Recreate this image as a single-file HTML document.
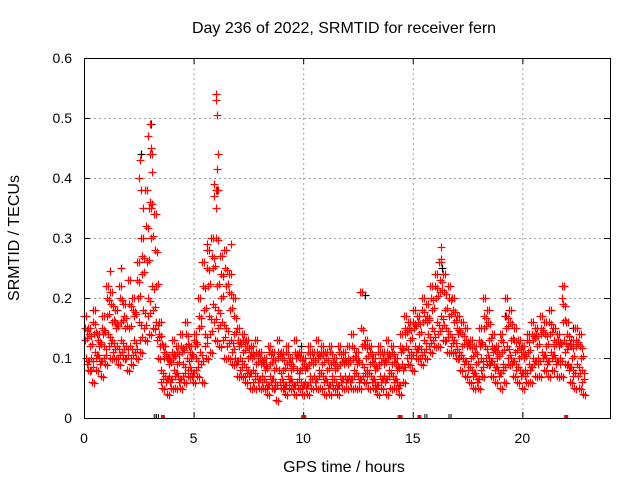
<!DOCTYPE html>
<html><head><meta charset="utf-8"><style>
body{margin:0;background:#fff}
svg{display:block;font-family:"Liberation Sans",sans-serif}
</style></head><body>
<svg id="c" width="640" height="480" xmlns="http://www.w3.org/2000/svg"></svg>
<script>
const xTicks=[0,5,10,15,20];
const yTicks=[0,0.1,0.2,0.3,0.4,0.5,0.6];
const yTickLabels=["0","0.1","0.2","0.3","0.4","0.5","0.6"];
const step=0.2;
const hiVals=[.17,.15,.18,.14,.17,.22,.21,.18,.22,.19,.23,.2,.26,.3,.38,.44,.34,.16,.12,.1,.13,.12,.14,.16,.12,.14,.2,.26,.28,.3,.38,.27,.28,.24,.2,.15,.14,.13,.12,.13,.11,.1,.12,.11,.13,.11,.12,.1,.13,.11,.1,.12,.11,.13,.12,.11,.12,.1,.12,.11,.12,.14,.11,.21,.13,.12,.1,.12,.11,.13,.12,.1,.14,.17,.16,.18,.17,.2,.19,.22,.24,.26,.24,.22,.2,.17,.16,.15,.13,.12,.15,.2,.18,.14,.12,.14,.2,.18,.15,.13,.12,.14,.16,.15,.17,.16,.18,.15,.14,.22,.16,.13,.15,.14];
const upVals=[.15,.14,.16,.13,.15,.2,.19,.16,.2,.17,.19,.18,.23,.27,.32,.36,.28,.14,.11,.1,.11,.11,.12,.14,.11,.13,.17,.22,.25,.27,.3,.24,.25,.21,.17,.13,.13,.12,.11,.11,.1,.09,.11,.1,.11,.1,.11,.09,.11,.1,.09,.11,.1,.11,.11,.1,.11,.09,.11,.1,.1,.12,.1,.15,.12,.11,.09,.11,.1,.11,.11,.09,.12,.15,.15,.16,.16,.18,.17,.2,.22,.23,.21,.2,.18,.15,.14,.13,.12,.11,.13,.17,.16,.12,.11,.13,.17,.16,.13,.12,.11,.13,.14,.14,.15,.14,.16,.13,.13,.19,.14,.12,.13,.12];
const midHiVals=[.13,.12,.14,.12,.14,.17,.16,.15,.16,.15,.15,.17,.2,.24,.26,.3,.22,.12,.1,.09,.1,.09,.11,.12,.1,.12,.15,.18,.22,.25,.22,.2,.22,.18,.14,.12,.11,.1,.1,.09,.09,.08,.09,.08,.1,.08,.09,.08,.1,.08,.08,.09,.09,.1,.09,.08,.09,.08,.09,.09,.09,.1,.09,.12,.1,.09,.08,.09,.09,.1,.09,.08,.11,.14,.13,.15,.14,.16,.16,.18,.2,.21,.18,.17,.16,.14,.12,.12,.1,.09,.12,.15,.13,.11,.1,.11,.15,.13,.11,.1,.1,.11,.13,.12,.14,.12,.14,.12,.12,.16,.12,.1,.12,.1];
const midLoVals=[.1,.1,.11,.1,.12,.14,.13,.12,.13,.12,.12,.13,.16,.18,.2,.22,.16,.08,.07,.07,.08,.07,.09,.1,.08,.1,.11,.14,.17,.19,.18,.16,.15,.13,.1,.1,.09,.08,.08,.07,.07,.06,.07,.06,.08,.06,.07,.06,.08,.06,.06,.07,.07,.08,.07,.06,.07,.06,.07,.07,.07,.08,.07,.09,.08,.07,.06,.07,.07,.08,.07,.06,.09,.12,.11,.12,.12,.13,.14,.15,.16,.17,.15,.14,.13,.11,.1,.09,.08,.07,.1,.12,.1,.09,.08,.09,.12,.1,.09,.08,.08,.09,.1,.1,.11,.1,.11,.1,.1,.13,.09,.08,.09,.08];
const dnVals=[.09,.08,.1,.09,.1,.12,.11,.1,.11,.1,.1,.11,.13,.15,.17,.18,.13,.06,.06,.06,.07,.06,.07,.08,.07,.08,.09,.12,.14,.16,.15,.13,.12,.11,.09,.08,.07,.07,.06,.06,.06,.05,.06,.05,.06,.05,.06,.05,.06,.05,.05,.06,.06,.07,.06,.05,.06,.05,.06,.06,.06,.07,.06,.07,.07,.06,.05,.06,.06,.07,.06,.05,.08,.1,.1,.11,.1,.11,.12,.13,.14,.15,.13,.12,.11,.1,.09,.08,.07,.06,.08,.1,.09,.08,.07,.08,.1,.09,.08,.07,.07,.08,.09,.09,.1,.09,.1,.09,.09,.11,.08,.07,.07,.06];
const loVals=[.08,.06,.08,.07,.09,.1,.1,.09,.1,.08,.09,.1,.11,.13,.14,.15,.1,.05,.04,.05,.05,.05,.06,.07,.06,.07,.06,.1,.11,.13,.12,.1,.1,.09,.07,.07,.06,.05,.05,.05,.05,.04,.05,.03,.05,.04,.05,.04,.05,.04,.04,.05,.05,.05,.04,.04,.05,.04,.05,.05,.05,.05,.05,.06,.05,.05,.04,.05,.04,.05,.05,.04,.06,.09,.08,.1,.09,.1,.11,.12,.12,.13,.11,.11,.1,.08,.07,.06,.05,.05,.07,.09,.07,.06,.05,.06,.09,.07,.06,.05,.06,.06,.07,.07,.08,.07,.08,.07,.07,.09,.06,.05,.05,.04];
const spikeT=[2.5,2.55,2.6,2.9,3.0,3.05,3.1,2.95,6.0,6.03,6.05,6.1,6.05,5.95,5.95,6.0,2.7,3.05,12.7,16.3,16.3,21.9,21.8,5.6,6.7,1.2,1.7];
const spikeV=[.4,.43,.38,.47,.49,.45,.41,.35,.54,.53,.505,.44,.415,.39,.37,.35,.35,.35,.21,.285,.265,.22,.2,.29,.29,.245,.25];
const blackT=[3.05,2.6,6.05,12.8,16.35,9.9,19.2,22.3];
const blackV=[.49,.44,.38,.205,.25,.12,.17,.15];
const zeroRedT=[3.6,10.0,10.05,14.4,14.45,15.3,22.0];
const zeroBlackT=[3.25,3.35,15.6,16.7];

const L=84,R=610,T=58,B=418;
const X=t=>L+t*(R-L)/24;
const Y=v=>B-v*(B-T)/0.6;
const NS="http://www.w3.org/2000/svg";
const svg=document.getElementById('c');
function mk(tag,at,parent){const e=document.createElementNS(NS,tag);for(const k in at)e.setAttribute(k,at[k]);(parent||svg).appendChild(e);return e;}

const grid=mk('g',{stroke:'#a0a0a0','stroke-width':1,'stroke-dasharray':'2,3'});


yTicks.forEach((v,i)=>{
  if(i>0&&i<yTicks.length-1){mk('line',{x1:L,x2:R,y1:Y(v)+.5,y2:Y(v)+.5},grid);}
  const tk=mk('line',{x1:L,x2:L+6,y1:Y(v)+.5,y2:Y(v)+.5,stroke:'#000'});
  
  
  mk('line',{x1:R-6,x2:R,y1:Y(v)+.5,y2:Y(v)+.5,stroke:'#000'});
  const t=mk('text',{x:L-12,y:Y(v)+5,'text-anchor':'end','font-size':14});
  t.textContent=yTickLabels[i];
  
  
});
xTicks.forEach(v=>{
  if(v>0){mk('line',{x1:X(v)+.5,x2:X(v)+.5,y1:T,y2:B},grid);}
  mk('line',{x1:X(v)+.5,x2:X(v)+.5,y1:B-6,y2:B,stroke:'#000'});
  mk('line',{x1:X(v)+.5,x2:X(v)+.5,y1:T,y2:T+6,stroke:'#000'});
  const t=mk('text',{x:X(v),y:B+25,'text-anchor':'middle','font-size':14});
  t.textContent=String(v);
  
  
});

function plus(g,t,v,col,dx,dy){
  const x=Math.round(X(t))+.5+(dx||0),y=Math.round(Y(v))+.5+(dy||0);
  const p=mk('path',{d:`M${x-4} ${y}H${x+4}M${x} ${y-4}V${y+4}`,stroke:col,'stroke-width':1.2,fill:'none'},g);
  
  
}
const gb=mk('g',{});


blackT.forEach((t,i)=>plus(gb,t,blackV[i],'#000'));
zeroBlackT.forEach(t=>{mk('path',{d:`M${X(t)-1} ${B-4}V${B}M${X(t)+1} ${B-4}V${B}`,stroke:'#000'},gb);});

const gr=mk('g',{});


[[hiVals,0,0],[upVals,0.033,2],[midHiVals,0.066,-2],[midLoVals,0.1,3],[dnVals,0.133,-3],[loVals,0.166,1]].forEach(([arr,off,dy])=>{
  arr.forEach((v,i)=>{const t=i*step+off; if(t<=22.9){plus(gr,t,v,'#f00');plus(gr,t,v,'#f00',2,dy);}});
});
spikeT.forEach((t,i)=>plus(gr,t,spikeV[i],'#f00'));
zeroRedT.forEach(t=>{mk('rect',{x:X(t)-2,y:B-3,width:4,height:4,fill:'#f00'},gr);});

const frame=mk('rect',{x:L+.5,y:T+.5,width:R-L,height:B-T,fill:'none',stroke:'#000'});



const ti=mk('text',{x:344,y:33,'text-anchor':'middle','font-size':16});
ti.textContent='Day 236 of 2022, SRMTID for receiver fern';


const xt=mk('text',{x:344,y:472,'text-anchor':'middle','font-size':16});
xt.textContent='GPS time / hours';


const yt=mk('text',{x:0,y:0,'text-anchor':'middle','font-size':16,transform:'translate(19,238) rotate(-90)'});
yt.textContent='SRMTID / TECUs';


</script>
</body></html>
